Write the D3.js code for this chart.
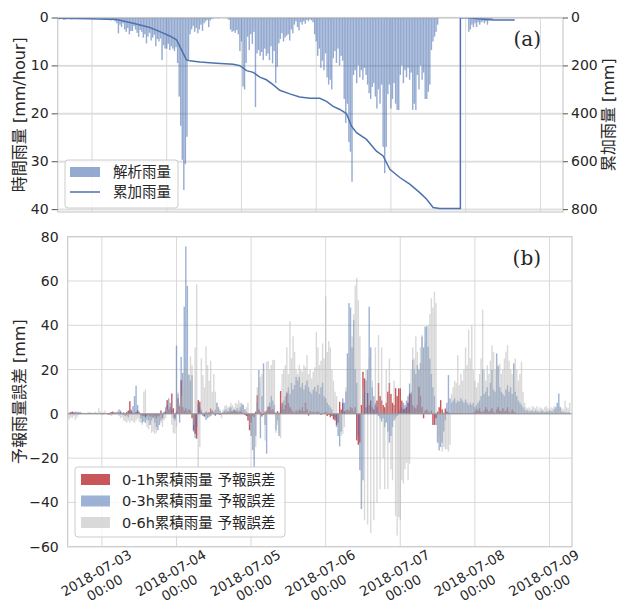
<!DOCTYPE html>
<html>
<head>
<meta charset="utf-8">
<script src="https://cdn.jsdelivr.net/npm/d3@7"></script>
<style>
  body { margin: 0; background: #fff; }
  svg { display: block; }
  text { font-family: "DejaVu Sans", "Noto Sans CJK JP", sans-serif; fill: #262626; }
  text.panel { font-family: "DejaVu Serif", serif; }
</style>
</head>
<body>
<script>
// half-hourly series, index 0 = 2018-07-02 13:00
const startTime = new Date(2018, 6, 2, 13, 0);
const stepMinutes = 30;
const endTime = new Date(2018, 6, 9, 7, 15);

// (a) analysed rainfall [mm/hour]
const rainAnalysed = [
  0.3,0.4,0.2,0.3,0.5,0.4,0.3,0.2,0.3,0.4,0.2,0.3,0.2,0.1,0.2,0.3,0.2,0.1,0.2,0.3,
  0.2,0.1,0.2,0.3,0.2,0.1,0.1,0.2,0.3,0.2,0.4,0.3,0.5,0.4,0.6,0.5,0.4,0.8,1.2,3.3,
  1.5,2.0,1.2,2.5,3.0,2.2,3.5,2.8,2.8,1.8,2.5,3.2,4.0,2.6,3.0,4.2,3.5,5.4,4.0,3.2,
  4.8,4.2,3.6,6.0,4.5,5.0,4.4,8.9,5.8,6.5,6.5,5.5,6.8,6.0,6.5,7.0,6.2,9.5,16.5,22.6,
  29.7,36.0,30.6,24.9,9.0,3.5,2.5,1.8,3.0,2.2,3.3,2.5,1.5,2.8,1.2,0.8,0.5,2.0,0.6,0.3,
  0.2,0.1,0.1,0.2,0.1,0.1,0,0.1,0.1,0.2,0.5,2.5,3.0,2.8,3.2,2.6,3.5,7.0,5.0,14.4,
  15.0,9.5,4.0,6.8,3.5,5.5,3.0,18.7,7.5,6.8,8.0,7.2,8.9,6.5,8.0,7.5,8.9,6.0,9.6,7.0,
  13.7,10.3,5.4,4.5,3.3,5.0,4.2,3.8,3.5,4.8,2.5,3.3,1.5,0.8,2.0,2.7,1.0,1.5,0.8,1.3,
  0.5,0.8,0.4,0.6,1.0,3.5,5.0,8.0,6.5,10.5,9.0,11.0,7.5,12.5,14.0,13.0,15.0,8.5,7.0,9.5,
  6.5,10.0,8.0,9.0,17.0,22.0,18.0,26.0,28.0,34.3,12.0,11.0,13.7,10.0,12.5,11.0,13.0,10.5,12.0,14.0,
  15.8,17.0,14.5,13.7,16.5,19.0,15.0,18.0,14.0,27.0,32.5,27.0,16.0,14.0,19.0,17.0,13.7,18.0,19.3,19.3,
  12.0,10.0,13.7,11.0,12.5,10.5,13.0,11.5,19.3,18.0,19.3,12.0,15.0,10.0,13.0,11.5,17.0,17.0,15.5,14.0,
  6.8,5.0,4.0,3.0,1.5,0,0,0,0,0,0,0,0,0,0,0,0,0,0,0,
  0,0,0,0,3.0,2.5,1.5,2.0,1.2,2.0,1.0,1.5,1.0,0.8,1.2,0.8,1.5,0.6,0.4,0.3
];

// (a) accumulated rainfall [mm], read at these half-hour steps
const cumStep = [0,20,37.8,48.5,59.2,65.6,72,76.3,79.5,82.7,84.9,91.3,102,112.7,117,121.3,125.5,129.8,134,138.3,
  142.6,149,155.4,162,168.3,172.6,176.9,181.2,185.4,188.7,191.9,198.3,204.7,209,213.3,219.7,226.1,232.5,236.8,241.1,
  245.3,258.6,258.6,264,270,280,293.5];
const cumRain = [3,5,8,24,42,59,77,93,135,177,181,186,191,195,201,222,229,249,260,280,
  304,319,332,337,337,350,371,384,401,454,481,509,558,578,634,668,696,731,758,793,
  797,797,0,1,5,10,10];

// (b) forecast errors [mm]
const err1h = [
  0.3,0.5,0.8,1.0,0.6,0.3,0.2,0.4,0.3,0.2,0.1,0.3,0.2,0.1,0.2,0.4,0.2,0.1,0.3,0.2,
  0.1,0.2,0.3,0.2,0.1,0.2,0.3,0.5,0.8,1.0,0.6,0.3,0.2,0.5,0.8,0.3,0.6,0.4,0.9,1.5,
  5.7,1.2,0.5,0.3,0.8,1.6,0.5,-0.5,-1.0,-0.8,-1.5,-1.0,-0.5,-1.2,-0.8,-1.5,-1.0,-2.0,-1.2,-0.8,
  1.5,-2.0,0.5,1.0,6.2,2.0,3.0,9.2,2.5,-2.0,1.0,7.0,3.5,15.2,3.0,1.5,2.5,1.0,2.0,1.5,
  -2.0,-7.4,-9.0,-11.2,6.2,5.5,1.0,0.5,-1.0,1.0,0.5,0.8,2.4,1.5,0.5,-0.8,0.3,0.5,-0.5,0.3,
  0.5,0.8,0.3,1.0,0.5,1.2,0.8,1.7,1.5,1.0,0.5,1.2,0.8,0.3,-0.5,-1.0,-3.0,-7.4,-4.0,-1.0,
  -1.5,1.0,8.4,2.0,1.0,-1.2,-0.5,1.0,1.5,3.3,3.2,1.5,2.0,0.8,0.5,1.2,0.5,10.3,5.0,2.0,
  4.0,9.2,4.8,3.0,2.0,1.0,0.5,1.5,0.8,2.0,1.5,3.0,1.2,5.0,2.0,-0.8,1.2,0.5,1.0,0.5,
  0.8,1.0,0.5,-0.5,0.3,0.5,1.0,-1.0,-0.5,-1.5,-1.0,-2.5,-3.0,-5.0,-4.0,5.4,2.0,5.0,1.0,1.5,
  2.0,1.5,3.0,2.5,1.0,3.0,-12.0,-14.0,-13.0,4.0,19.0,16.0,3.0,9.4,4.0,6.0,3.0,2.0,4.0,6.0,
  13.9,8.0,6.0,4.0,3.0,5.0,10.0,13.9,9.0,5.0,4.0,11.6,8.0,11.5,11.5,6.0,2.0,2.4,3.0,5.0,
  9.2,9.0,4.0,3.0,2.5,4.0,12.2,8.0,3.0,-2.0,1.5,2.0,1.0,0.5,1.5,-5.0,-5.0,-2.0,1.0,3.0,
  6.2,2.0,0.5,2.4,1.0,0.5,0.3,0.2,0.5,0.3,0.2,0.4,0.3,0.5,0.2,0.1,0.3,0.2,0.5,0.3,
  0.2,0.5,1.0,2.0,1.5,2.5,1.0,0.8,1.5,3.0,2.0,1.0,1.5,2.5,1.0,0.5,2.0,3.0,1.5,1.0,
  2.5,1.0,1.5,3.0,1.0,0.5,2.0,1.0,0.5,0.3,0.2,0.1,0.2,0.1,0.1,0.2,0.1,0,0.1,0,
  0.1,0,0.1,0.2,0.1,0,0,0.1,0.2,0.1,0,0.1,0.1,0,0.2,0.1,0,0,0.1,0,0.1,0,0,0.1
];
const err3h = [
  0.5,0.3,0.5,0.6,0.8,1.0,1.0,0.8,0.9,0.5,0.3,0.2,0.3,0.5,0.7,0.4,0.2,0.1,0.2,0.3,
  0.2,0.1,-0.3,-0.2,0.1,0.2,-0.5,-0.3,0.2,0.4,0.5,0.8,1.0,2.0,1.5,0.5,-0.5,-1.0,-0.8,-1.5,
  1.5,2.0,3.5,8.0,12.7,4.0,1.0,-2.0,-4.0,-3.5,-4.0,-2.5,-3.0,-5.0,-3.0,-2.0,-4.0,-6.0,-7.4,-5.0,
  -3.0,-2.0,1.0,3.0,4.0,7.0,5.0,2.0,-2.0,-3.0,30.8,9.0,-4.0,25.7,18.5,48.4,75.6,57.8,17.5,15.0,
  17.5,-8.0,-11.0,-6.0,4.7,3.0,2.0,-1.0,-1.5,-2.7,-2.0,-1.5,-1.0,0.5,1.0,2.0,5.0,3.0,1.4,0.5,
  1.0,1.5,2.0,1.0,2.5,3.0,1.5,2.0,1.0,2.5,1.5,3.0,4.7,4.0,2.0,1.0,-1.0,-3.0,-10.0,-16.4,
  -24.0,-10.0,5.0,19.8,-11.0,8.0,22.8,-5.0,-18.0,3.0,5.0,8.0,6.0,4.0,-7.4,-3.0,-10.0,2.0,4.0,6.0,
  8.0,10.0,12.0,9.0,14.0,11.0,13.0,16.7,15.0,16.7,12.0,14.0,11.0,13.0,15.0,12.0,10.0,9.0,11.0,12.2,
  10.0,13.0,9.0,12.0,14.0,8.0,7.0,5.0,4.0,3.0,2.0,-1.0,-2.0,-6.0,-10.0,-14.7,-8.0,7.0,5.0,10.0,
  27.3,50.0,48.0,30.0,42.4,20.0,14.0,-10.0,-25.5,-43.0,-30.0,10.0,15.0,20.0,48.4,30.0,12.0,8.0,5.0,3.0,
  -1.0,-2.0,-3.5,-2.0,-6.0,-4.0,-8.0,-13.0,-10.0,-6.0,-3.0,-2.0,-1.0,1.0,2.0,3.0,5.0,4.0,6.0,8.0,
  13.7,10.0,24.3,20.0,18.0,22.0,20.0,23.0,34.8,30.0,39.4,39.5,30.3,25.0,18.0,12.0,8.0,-5.0,-13.0,-16.5,
  -15.0,-13.0,-8.0,-3.0,5.0,17.5,7.0,5.0,6.0,7.0,5.0,6.0,5.5,7.0,6.0,5.0,6.5,5.0,4.0,5.0,
  4.0,5.0,3.0,4.0,5.0,6.0,8.0,20.0,9.0,10.0,12.0,8.0,14.0,19.8,11.0,10.0,27.3,21.5,12.0,10.0,
  9.0,8.0,11.0,13.0,10.0,12.0,9.0,22.8,10.0,8.0,6.0,5.0,4.0,3.0,2.0,1.5,1.5,1.0,1.2,1.5,
  1.0,1.5,1.2,0.8,1.0,1.5,1.0,0.8,1.2,1.0,1.5,1.2,1.0,2.0,3.0,5.0,9.2,3.0,1.0,0.8,1.0,0.5,0.8,0.5
];
const err6h = [
  -2.0,-2.5,-1.5,-2.0,-1.0,-2.7,-1.5,-0.5,-0.3,0.2,0.5,0.3,0.5,0.2,0.4,0.3,0.5,0.8,1.0,0.5,
  2.5,1.0,0.5,0.8,1.5,0.5,0.3,-0.5,-1.0,-0.5,0.5,0.8,0.3,-1.0,-2.0,-1.5,-3.0,-3.5,-4.0,-3.0,
  -4.0,-3.0,-3.5,-4.0,-3.0,-2.0,-3.5,-4.0,-5.0,10.0,11.0,-6.0,-7.0,-5.0,-8.6,-8.0,-9.0,-8.6,-6.0,-5.0,
  -4.0,-6.0,-3.0,-2.0,2.0,4.0,3.0,-5.0,-8.6,-9.0,-6.0,10.0,5.0,8.0,12.0,15.0,20.0,25.0,18.0,26.0,
  22.0,-5.0,30.0,58.5,-24.0,-15.0,25.0,17.5,12.0,30.5,22.0,15.0,24.0,10.0,18.0,10.0,5.0,3.0,2.0,-2.0,
  2.0,3.5,4.0,3.0,3.5,5.0,4.0,3.0,5.0,4.5,6.0,5.0,4.0,3.0,2.0,3.0,5.0,-5.0,-8.0,-12.0,
  -20.0,-15.0,12.0,15.0,16.7,18.0,20.0,-12.0,23.5,23.9,20.0,22.0,24.4,24.3,-8.6,-5.0,-8.6,-11.0,18.0,20.0,
  22.0,30.0,18.0,41.8,25.0,35.0,28.0,20.0,18.0,22.0,20.0,19.0,22.0,21.0,26.5,18.0,20.0,16.0,19.0,21.0,
  37.0,30.0,22.0,24.0,31.8,25.0,53.0,28.0,32.8,30.0,20.0,15.0,10.0,8.0,-5.0,-8.0,-10.0,-9.0,-6.0,12.0,
  20.0,25.0,30.0,35.0,45.0,58.0,61.4,51.4,35.0,-43.0,12.0,-48.0,20.0,-50.0,25.0,-53.8,15.0,-48.0,30.0,-40.0,
  35.6,-34.0,30.0,-20.0,-34.0,20.0,-34.0,25.0,-25.0,-30.0,15.0,-46.0,-55.0,-46.6,-48.0,-30.0,-31.5,-25.0,-22.0,-30.0,
  -22.5,20.0,30.0,25.0,35.0,28.0,20.0,30.0,35.6,25.0,32.0,28.0,40.0,45.0,52.2,48.0,55.2,50.0,-13.0,-10.0,
  -12.0,-17.0,-15.0,-16.0,-16.0,-17.0,-14.0,9.0,12.0,15.0,14.0,26.5,13.0,18.0,15.0,20.0,30.0,22.0,38.0,25.0,
  40.0,20.0,15.0,12.0,14.0,18.0,25.0,47.0,20.0,15.0,22.0,18.0,24.0,31.0,28.0,20.0,25.0,22.0,22.8,18.0,
  20.0,25.0,28.0,31.0,24.0,20.0,18.0,22.0,25.0,20.0,15.0,18.0,23.5,10.0,5.0,3.0,2.5,3.0,2.0,3.5,
  3.0,2.5,3.5,2.0,3.0,2.5,2.0,3.0,3.5,2.5,2.0,3.0,2.5,3.5,3.0,2.0,4.0,3.0,2.5,2.0,6.0,3.0,2.5,5.0
];

const dayTicks = ["2018-07-03","2018-07-04","2018-07-05","2018-07-06","2018-07-07","2018-07-08","2018-07-09"];
const rainTicks = [0, 10, 20, 30, 40];
const cumTicks = [0, 200, 400, 600, 800];
const errTicks = [-60, -40, -20, 0, 20, 40, 60, 80];
const legendA = ["解析雨量", "累加雨量"];
const legendB = ["0-1h累積雨量 予報誤差", "0-3h累積雨量 予報誤差", "0-6h累積雨量 予報誤差"];

const W = 617, H = 610;
const A = { l: 57.7, r: 563, t: 17.5, b: 212 };
const B = { l: 67.7, r: 572, t: 236.7, b: 546.7 };

const blue = "#4c72b0", red = "#c44e52", grey = "#b4b4b4";
const gridC = "#d9d9d9", spineC = "#cccccc";

const timeAt = i => new Date(startTime.getTime() + i * stepMinutes * 60000);
const dayDates = dayTicks.map(s => { const [y, m, d] = s.split("-").map(Number); return new Date(y, m - 1, d); });

const svg = d3.select("body").append("svg").attr("width", W).attr("height", H);
const defs = svg.append("defs");
defs.append("clipPath").attr("id", "clipA").append("rect")
  .attr("x", A.l).attr("y", A.t).attr("width", A.r - A.l).attr("height", A.b - A.t);
defs.append("clipPath").attr("id", "clipB").append("rect")
  .attr("x", B.l).attr("y", B.t).attr("width", B.r - B.l).attr("height", B.b - B.t);

// ---------- panel (a) ----------
const xA = d3.scaleTime().domain([startTime, endTime]).range([A.l, A.r]);
const yA = d3.scaleLinear().domain([0, 40.6]).range([A.t, A.b]);
const yA2 = d3.scaleLinear().domain([0, 812]).range([A.t, A.b]);
const bw = (xA(timeAt(1)) - xA(timeAt(0))) * 0.9;

const gA = svg.append("g");
gA.append("g").selectAll("line").data(dayDates).join("line")
  .attr("x1", d => xA(d)).attr("x2", d => xA(d))
  .attr("y1", A.t).attr("y2", A.b).attr("stroke", gridC);
gA.append("g").selectAll("line").data(rainTicks).join("line")
  .attr("x1", A.l).attr("x2", A.r).attr("y1", d => yA(d)).attr("y2", d => yA(d)).attr("stroke", gridC);
gA.append("g").selectAll("line").data(cumTicks).join("line")
  .attr("x1", A.l).attr("x2", A.r).attr("y1", d => yA2(d) + 0.8).attr("y2", d => yA2(d) + 0.8).attr("stroke", gridC);

const plotA = gA.append("g").attr("clip-path", "url(#clipA)");
plotA.append("g").selectAll("rect").data(rainAnalysed).join("rect")
  .attr("x", (d, i) => xA(timeAt(i)) - bw / 2)
  .attr("y", yA(0))
  .attr("width", bw)
  .attr("height", d => yA(d) - yA(0))
  .attr("fill", blue).attr("fill-opacity", 0.6);

const cumPts = cumStep.map((s, k) => [s, cumRain[k]]);
plotA.append("path").datum(cumPts)
  .attr("d", d3.line().x(d => xA(timeAt(d[0]))).y(d => yA2(d[1])))
  .attr("fill", "none").attr("stroke", blue).attr("stroke-width", 1.5);

gA.append("rect").attr("x", A.l).attr("y", A.t).attr("width", A.r - A.l).attr("height", A.b - A.t)
  .attr("fill", "none").attr("stroke", spineC).attr("stroke-width", 1.2);

const axA = gA.append("g").attr("transform", `translate(${A.l},0)`)
  .call(d3.axisLeft(yA).tickValues(rainTicks).tickSize(6).tickPadding(3));
const axA2 = gA.append("g").attr("transform", `translate(${A.r},0)`)
  .call(d3.axisRight(yA2).tickValues(cumTicks).tickSize(5).tickPadding(3));
[axA, axA2].forEach(ax => {
  ax.select(".domain").remove();
  ax.selectAll(".tick line").attr("stroke", "#555");
  ax.selectAll("text").attr("font-size", 14).attr("fill", "#262626")
    .attr("font-family", "'DejaVu Sans', 'Noto Sans CJK JP', sans-serif");
});

svg.append("text").attr("transform", `translate(19,${(A.t + A.b) / 2}) rotate(-90)`)
  .attr("text-anchor", "middle").attr("dominant-baseline", "central").attr("font-size", 16)
  .text("時間雨量 [mm/hour]");
svg.append("text").attr("transform", `translate(608,${(A.t + A.b) / 2}) rotate(-90)`)
  .attr("text-anchor", "middle").attr("dominant-baseline", "central").attr("font-size", 16)
  .text("累加雨量 [mm]");
svg.append("text").attr("class", "panel").attr("x", 541).attr("y", 46).attr("text-anchor", "end")
  .attr("font-size", 20).text("(a)");

const legA = svg.append("g");
legA.append("rect").attr("x", 65).attr("y", 160).attr("width", 113).attr("height", 48).attr("rx", 3)
  .attr("fill", "#fff").attr("fill-opacity", 0.8).attr("stroke", spineC);
legA.append("rect").attr("x", 70).attr("y", 167).attr("width", 30).attr("height", 10)
  .attr("fill", blue).attr("fill-opacity", 0.6);
legA.append("line").attr("x1", 70).attr("x2", 100).attr("y1", 192).attr("y2", 192)
  .attr("stroke", blue).attr("stroke-width", 1.5);
legA.selectAll("text.lab").data(legendA).join("text").attr("class", "lab")
  .attr("x", 113).attr("y", (d, i) => 172 + i * 20).attr("dominant-baseline", "central")
  .attr("font-size", 14.5).text(d => d);

// ---------- panel (b) ----------
const xB = d3.scaleTime().domain([startTime, endTime]).range([B.l, B.r]);
const yB = d3.scaleLinear().domain([-60, 80]).range([B.b, B.t]);

const gB = svg.append("g");
gB.append("g").selectAll("line").data(dayDates).join("line")
  .attr("x1", d => xB(d)).attr("x2", d => xB(d)).attr("y1", B.t).attr("y2", B.b).attr("stroke", gridC);
gB.append("g").selectAll("line").data(errTicks).join("line")
  .attr("x1", B.l).attr("x2", B.r).attr("y1", d => yB(d)).attr("y2", d => yB(d)).attr("stroke", gridC);

const plotB = gB.append("g").attr("clip-path", "url(#clipB)");
const series = [
  { vals: err1h, fill: red, op: 0.95 },
  { vals: err3h, fill: blue, op: 0.55 },
  { vals: err6h, fill: grey, op: 0.5 }
];
series.forEach(s => {
  plotB.append("g").selectAll("rect").data(s.vals).join("rect")
    .attr("x", (d, i) => xB(timeAt(i)) - bw / 2)
    .attr("y", d => yB(Math.max(0, d)))
    .attr("width", bw)
    .attr("height", d => Math.abs(yB(d) - yB(0)))
    .attr("fill", s.fill).attr("fill-opacity", s.op);
});
plotB.append("line").attr("x1", B.l).attr("x2", B.r).attr("y1", yB(0)).attr("y2", yB(0))
  .attr("stroke", "#999").attr("stroke-width", 1);

gB.append("rect").attr("x", B.l).attr("y", B.t).attr("width", B.r - B.l).attr("height", B.b - B.t)
  .attr("fill", "none").attr("stroke", spineC).attr("stroke-width", 1.2);

const axB = gB.append("g").attr("transform", `translate(${B.l},0)`)
  .call(d3.axisLeft(yB).tickValues(errTicks).tickSize(0).tickPadding(9).tickFormat(d => d < 0 ? "\u2212" + Math.abs(d) : d));
axB.select(".domain").remove();
axB.selectAll("text").attr("font-size", 14).attr("fill", "#262626")
  .attr("font-family", "'DejaVu Sans', 'Noto Sans CJK JP', sans-serif");

const axBx = gB.append("g").attr("transform", `translate(0,${B.b})`)
  .call(d3.axisBottom(xB).tickValues(dayDates).tickSize(0).tickFormat(""));
axBx.select(".domain").remove();
axBx.selectAll(".tick").each(function(d, i) {
  const g = d3.select(this).append("g").attr("transform", "translate(-2,33.5) rotate(-30)");
  g.append("text").attr("text-anchor", "middle").attr("y", -3.5).attr("font-size", 13.5).attr("fill", "#262626")
    .text(dayTicks[i]);
  g.append("text").attr("text-anchor", "middle").attr("y", 13.5).attr("font-size", 13.5).attr("fill", "#262626")
    .text("00:00");
});

svg.append("text").attr("transform", `translate(19,${(B.t + B.b) / 2}) rotate(-90)`)
  .attr("text-anchor", "middle").attr("dominant-baseline", "central").attr("font-size", 16)
  .text("予報雨量誤差 [mm]");
svg.append("text").attr("class", "panel").attr("x", 541).attr("y", 265).attr("text-anchor", "end")
  .attr("font-size", 20).text("(b)");

const legB = svg.append("g");
legB.append("rect").attr("x", 75).attr("y", 467).attr("width", 210).attr("height", 70).attr("rx", 3)
  .attr("fill", "#fff").attr("fill-opacity", 0.8).attr("stroke", spineC);
legendB.forEach((lab, i) => {
  const cy = 479.5 + i * 21.5;
  legB.append("rect").attr("x", 81).attr("y", cy - 5.5).attr("width", 29).attr("height", 11)
    .attr("fill", series[i].fill).attr("fill-opacity", series[i].op);
  legB.append("text").attr("x", 122).attr("y", cy).attr("dominant-baseline", "central")
    .attr("font-size", 14.5).text(lab);
});
</script>
</body>
</html>
